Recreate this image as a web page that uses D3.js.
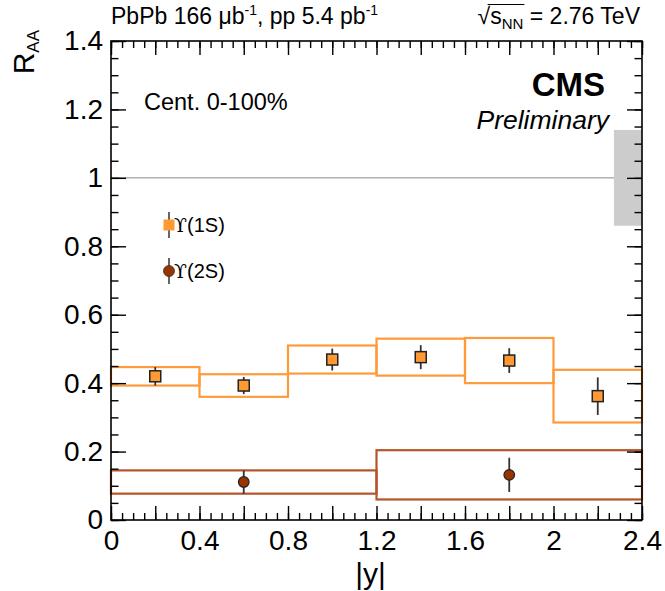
<!DOCTYPE html>
<html>
<head>
<meta charset="utf-8">
<script src="https://cdn.jsdelivr.net/npm/d3@7"></script>
<style>
  html, body { margin: 0; padding: 0; background: #fff; }
  svg { display: block; font-family: 'Liberation Sans', Arial, Helvetica, sans-serif; }
</style>
</head>
<body>
<svg id="chart" width="665" height="591"></svg>
<script>
// ---------------- data ----------------
const binEdges1S = [0, 0.4, 0.8, 1.2, 1.6, 2.0, 2.4];
const raa1S      = [0.420, 0.393, 0.469, 0.476, 0.466, 0.362];
const stat1S     = [0.027, 0.025, 0.032, 0.035, 0.036, 0.055];
const syst1S     = [0.027, 0.033, 0.041, 0.054, 0.066, 0.077];

const binEdges2S = [0, 1.2, 2.4];
const raa2S      = [0.111, 0.132];
const stat2S     = [0.034, 0.050];
const syst2S     = [0.034, 0.072];

const globalUnc      = 0.14;
const globalUncRange = [2.273, 2.4];

const xMajorTicks  = [0, 0.2, 0.4, 0.6, 0.8, 1.0, 1.2, 1.4, 1.6, 1.8, 2.0, 2.2, 2.4];
const xTickLabels  = {"0": "0", "0.4": "0.4", "0.8": "0.8", "1.2": "1.2", "1.6": "1.6", "2": "2", "2.4": "2.4"};
const yMajorTicks  = [0, 0.2, 0.4, 0.6, 0.8, 1.0, 1.2, 1.4];
const yTickLabels  = ["0", "0.2", "0.4", "0.6", "0.8", "1", "1.2", "1.4"];
const minorTicksX  = d3.range(0, 49).map(i => +(i * 0.05).toFixed(2));
const minorTicksY  = d3.range(0, 29).map(i => +(i * 0.05).toFixed(2));

const legendLabels = ["1S", "2S"];

// ---------------- layout ----------------
const col1S = "#ff9933", col1Sbox = "#ff9a3a";
const col2S = "#993300", col2Sbox = "#b5532b";
const svg = d3.select("#chart");
const x = d3.scaleLinear().domain([0, 2.4]).range([111, 642]);
const y = d3.scaleLinear().domain([0, 1.4]).range([520, 41]);

// reference line at 1
svg.append("line")
  .attr("x1", x(0)).attr("x2", x(2.4))
  .attr("y1", y(1)).attr("y2", y(1))
  .attr("stroke", "#8a8a8a").attr("stroke-width", 1);

// global uncertainty box
svg.append("rect")
  .attr("x", x(globalUncRange[0])).attr("width", x(globalUncRange[1]) - x(globalUncRange[0]))
  .attr("y", y(1 + globalUnc)).attr("height", y(1 - globalUnc) - y(1 + globalUnc))
  .attr("fill", "#cccccc");

// systematic boxes
function drawBoxes(edges, vals, syst, color) {
  svg.append("g").selectAll("rect").data(vals).join("rect")
    .attr("x", (d, i) => x(edges[i]))
    .attr("width", (d, i) => x(edges[i + 1]) - x(edges[i]))
    .attr("y", (d, i) => y(d + syst[i]))
    .attr("height", (d, i) => y(d - syst[i]) - y(d + syst[i]))
    .attr("fill", "none").attr("stroke", color).attr("stroke-width", 2.2);
}
drawBoxes(binEdges1S, raa1S, syst1S, col1Sbox);
drawBoxes(binEdges2S, raa2S, syst2S, col2Sbox);

// stat error bars + markers
function drawPoints(edges, vals, stat, shape, fill) {
  const g = svg.append("g");
  const cx = (i) => x((edges[i] + edges[i + 1]) / 2);
  g.selectAll("line").data(vals).join("line")
    .attr("x1", (d, i) => cx(i)).attr("x2", (d, i) => cx(i))
    .attr("y1", (d, i) => y(d - stat[i])).attr("y2", (d, i) => y(d + stat[i]))
    .attr("stroke", "#333").attr("stroke-width", 1.8);
  if (shape === "square") {
    g.selectAll("rect").data(vals).join("rect")
      .attr("x", (d, i) => cx(i) - 5.5).attr("y", d => y(d) - 5.5)
      .attr("width", 11).attr("height", 11)
      .attr("fill", fill).attr("stroke", "#222").attr("stroke-width", 1.5);
  } else {
    g.selectAll("circle").data(vals).join("circle")
      .attr("cx", (d, i) => cx(i)).attr("cy", d => y(d)).attr("r", 5.3)
      .attr("fill", fill).attr("stroke", "#222").attr("stroke-width", 1.2);
  }
}
drawPoints(binEdges1S, raa1S, stat1S, "square", col1S);
drawPoints(binEdges2S, raa2S, stat2S, "circle", col2S);

// ---------------- axes ----------------
function styleAxis(g) {
  g.select(".domain").remove();
  g.selectAll(".tick line").attr("stroke", "#000").attr("stroke-width", 1.4);
  g.selectAll(".tick text").attr("font-size", 28).attr("fill", "#000")
    .attr("font-family", "'Liberation Sans', Arial, sans-serif");
}
// left
svg.append("g").attr("transform", `translate(${x(0)},0)`)
  .call(d3.axisLeft(y).tickValues(yMajorTicks).tickSize(-15).tickPadding(8)
    .tickFormat((d, i) => yTickLabels[i])).call(styleAxis);
svg.append("g").attr("transform", `translate(${x(0)},0)`)
  .call(d3.axisLeft(y).tickValues(minorTicksY).tickSize(-7.5).tickFormat("")).call(styleAxis);
// right
svg.append("g").attr("transform", `translate(${x(2.4)},0)`)
  .call(d3.axisRight(y).tickValues(yMajorTicks).tickSize(-15).tickFormat("")).call(styleAxis);
svg.append("g").attr("transform", `translate(${x(2.4)},0)`)
  .call(d3.axisRight(y).tickValues(minorTicksY).tickSize(-7.5).tickFormat("")).call(styleAxis);
// bottom
svg.append("g").attr("transform", `translate(0,${y(0)})`)
  .call(d3.axisBottom(x).tickValues(xMajorTicks).tickSize(-14).tickPadding(10)
    .tickFormat(d => xTickLabels[String(+d.toFixed(1))] || "")).call(styleAxis);
svg.append("g").attr("transform", `translate(0,${y(0)})`)
  .call(d3.axisBottom(x).tickValues(minorTicksX).tickSize(-7).tickFormat("")).call(styleAxis);
// top
svg.append("g").attr("transform", `translate(0,${y(1.4)})`)
  .call(d3.axisTop(x).tickValues(xMajorTicks).tickSize(-14).tickFormat("")).call(styleAxis);
svg.append("g").attr("transform", `translate(0,${y(1.4)})`)
  .call(d3.axisTop(x).tickValues(minorTicksX).tickSize(-7).tickFormat("")).call(styleAxis);

// frame
svg.append("rect")
  .attr("x", x(0)).attr("y", y(1.4))
  .attr("width", x(2.4) - x(0)).attr("height", y(0) - y(1.4))
  .attr("fill", "none").attr("stroke", "#000").attr("stroke-width", 1.6);

// axis titles
svg.append("text").attr("x", (x(0) + x(2.4)) / 2 - 6).attr("y", 584)
  .attr("text-anchor", "middle").attr("font-size", 30).text("|y|");
const yt = svg.append("text").attr("transform", "translate(34,30) rotate(-90)")
  .attr("text-anchor", "end");
yt.append("tspan").attr("font-size", 30).text("R");
yt.append("tspan").attr("font-size", 17).attr("dy", 5).text("AA");

// header texts
const h1 = svg.append("text").attr("x", 111).attr("y", 24).attr("font-size", 23);
h1.append("tspan").text("PbPb 166 μb");
h1.append("tspan").attr("font-size", 14).attr("dy", -9).text("-1");
h1.append("tspan").attr("dy", 9).text(", pp 5.4 pb");
h1.append("tspan").attr("font-size", 14).attr("dy", -9).text("-1");

const h2 = svg.append("text").attr("x", 640).attr("y", 24).attr("font-size", 23)
  .attr("text-anchor", "end");
h2.append("tspan").text("√");
h2.append("tspan").text("s");
h2.append("tspan").attr("font-size", 15).attr("dy", 5).text("NN");
h2.append("tspan").attr("dy", -5).text(" = 2.76 TeV");
try {
  const n = h2.node();
  const s1 = n.getEndPositionOfChar(3).x;
  const r0 = n.getStartPositionOfChar(0).x;
  svg.append("line").attr("x1", r0 + 10).attr("x2", s1 + 1)
    .attr("y1", 4.5).attr("y2", 4.5).attr("stroke", "#000").attr("stroke-width", 1);
} catch (e) {}

// CMS labels
svg.append("text").attr("x", 605).attr("y", 96).attr("text-anchor", "end")
  .attr("font-size", 33).attr("font-weight", "bold").text("CMS");
svg.append("text").attr("x", 609).attr("y", 129).attr("text-anchor", "end")
  .attr("font-size", 26.5).attr("font-style", "italic").text("Preliminary");
svg.append("text").attr("x", 144).attr("y", 110)
  .attr("font-size", 23.5).text("Cent. 0-100%");

// legend
const legY = [225, 271];
const lg = svg.append("g");
lg.selectAll("line").data(legendLabels).join("line")
  .attr("x1", 169).attr("x2", 169)
  .attr("y1", (d, i) => legY[i] - 13).attr("y2", (d, i) => legY[i] + 13)
  .attr("stroke", "#333").attr("stroke-width", 1.5);
lg.append("rect").attr("x", 163.5).attr("y", legY[0] - 5.5).attr("width", 11).attr("height", 11)
  .attr("fill", col1S);
lg.append("circle").attr("cx", 169).attr("cy", legY[1]).attr("r", 5.5)
  .attr("fill", col2S).attr("stroke", "#333").attr("stroke-width", 0.8);
lg.selectAll("text").data(legendLabels).join("text")
  .attr("x", 174).attr("y", (d, i) => legY[i] + 7).attr("font-size", 20)
  .each(function(d) {
    const t = d3.select(this);
    t.append("tspan").attr("font-family", "'DejaVu Serif', 'Liberation Serif', serif")
      .attr("font-size", 19).text("ϒ");
    t.append("tspan").text("(" + d + ")");
  });
</script>
</body>
</html>
